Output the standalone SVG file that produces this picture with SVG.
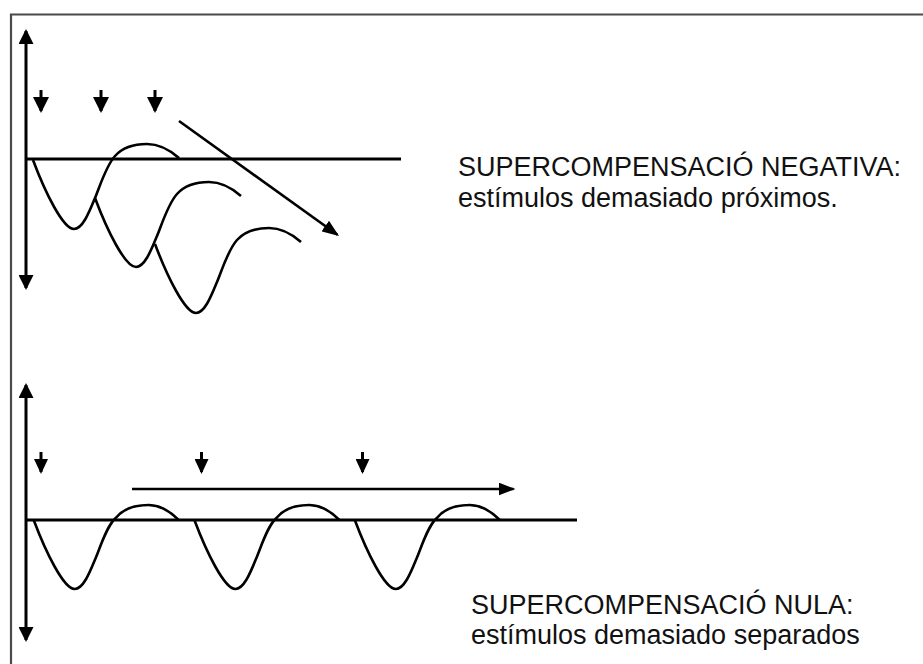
<svg xmlns="http://www.w3.org/2000/svg" width="923" height="664" viewBox="0 0 923 664">
<style>
.frame{fill:none;stroke:#4a4a4a;stroke-width:2.2}
.ax{fill:none;stroke:#000;stroke-width:3}
.ln{fill:none;stroke:#000;stroke-width:2.6}
.cv{fill:none;stroke:#000;stroke-width:2.6;stroke-linejoin:round}
.st{fill:none;stroke:#000;stroke-width:3}
.lbl{font-family:"Liberation Sans",Arial,sans-serif;font-size:27px;fill:#111}
</style>
<defs>
<marker id="ahAx" viewBox="0 0 15 15" refX="13" refY="7.5" markerWidth="15" markerHeight="15" markerUnits="userSpaceOnUse" orient="auto-start-reverse"><path d="M0,0 L15,7.5 L0,15 z" fill="#000"/></marker>
<marker id="ahS" viewBox="0 0 16 16" refX="14" refY="8" markerWidth="16" markerHeight="16" markerUnits="userSpaceOnUse" orient="auto"><path d="M0,0 L16,8 L0,16 z" fill="#000"/></marker>
<marker id="ahS2" viewBox="0 0 15 14" refX="13" refY="7" markerWidth="15" markerHeight="14" markerUnits="userSpaceOnUse" orient="auto"><path d="M0,0 L15,7 L0,14 z" fill="#000"/></marker>
<marker id="ahL" viewBox="0 0 17 13" refX="15" refY="6.5" markerWidth="17" markerHeight="13" markerUnits="userSpaceOnUse" orient="auto"><path d="M0,0 L17,6.5 L0,13 z" fill="#000"/></marker>
<path id="wave" d="M0,0 C12,32 30,69 41,69 C50,69 57,50 62,38 C67,26 73,6 82,-4 C90,-13 100,-16 114,-16 C126,-16 138,-9 146,-2"/>
<path id="wave2" d="M0,0 C12,32 30,69 41,69 C50,69 57,50 62,38 C67,26 73,6 82,-2 C90,-12 102,-15 115,-15 C127,-15 137,-8 145,0"/>
</defs>
<path class="frame" d="M11,664 V14.5 H925"/>
<g id="top-diagram">
<g id="top-axes">
<line class="ax" x1="26" y1="31" x2="26" y2="288" marker-start="url(#ahAx)" marker-end="url(#ahAx)"/>
<line class="ax" x1="26" y1="159" x2="401" y2="159"/>
</g>
<g id="top-stimuli">
<line class="st" x1="41" y1="90" x2="41" y2="111" marker-end="url(#ahS)"/>
<line class="st" x1="101" y1="90" x2="101" y2="111" marker-end="url(#ahS)"/>
<line class="st" x1="155" y1="90" x2="155" y2="111" marker-end="url(#ahS)"/>
</g>
<g id="top-curves">
<use href="#wave" class="cv" transform="translate(33,160)"/>
<use href="#wave" class="cv" transform="translate(95,198)"/>
<use href="#wave" class="cv" transform="translate(155,244)"/>
</g>
</g>
<g id="connectors">
<line class="ln" x1="179" y1="121" x2="337.4" y2="234.8" marker-end="url(#ahL)"/>
<line class="ln" x1="132" y1="489" x2="513.5" y2="489" marker-end="url(#ahL)"/>
</g>
<g id="bottom-diagram">
<g id="bottom-axes">
<line class="ax" x1="26" y1="385" x2="26" y2="640" marker-start="url(#ahAx)" marker-end="url(#ahAx)"/>
<line class="ax" x1="26" y1="520" x2="577" y2="520"/>
</g>
<g id="bottom-stimuli">
<line class="st" x1="41" y1="452" x2="41" y2="472" marker-end="url(#ahS2)"/>
<line class="st" x1="201.5" y1="452" x2="201.5" y2="472" marker-end="url(#ahS2)"/>
<line class="st" x1="362.5" y1="452" x2="362.5" y2="472" marker-end="url(#ahS2)"/>
</g>
<g id="bottom-curves">
<use href="#wave2" class="cv" transform="translate(33.7,520)"/>
<use href="#wave2" class="cv" transform="translate(194.4,520)"/>
<use href="#wave2" class="cv" transform="translate(354.8,520)"/>
</g>
</g>
<g id="label-negativa">
<text class="lbl" x="458" y="176">SUPERCOMPENSACIÓ NEGATIVA:</text>
<text class="lbl" x="458" y="207">estímulos demasiado próximos.</text>
</g>
<g id="label-nula">
<text class="lbl" x="471" y="614">SUPERCOMPENSACIÓ NULA:</text>
<text class="lbl" x="471" y="644">estímulos demasiado separados</text>
</g>
</svg>
